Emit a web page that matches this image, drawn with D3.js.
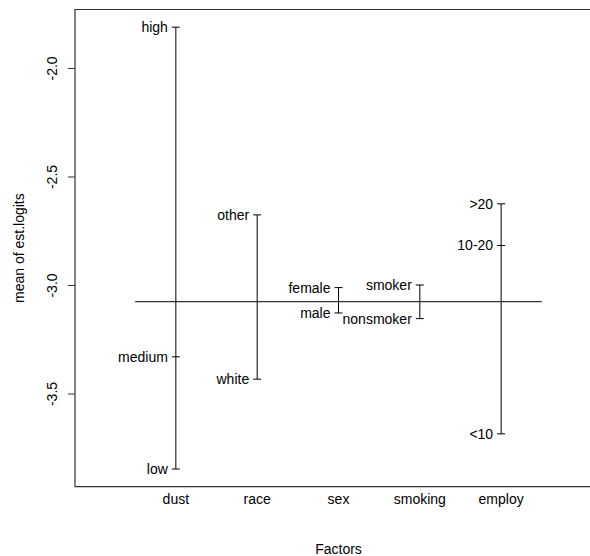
<!DOCTYPE html>
<html>
<head>
<meta charset="utf-8">
<script src="https://cdn.jsdelivr.net/npm/d3@7"></script>
<style>
  body { margin: 0; background: #fff; overflow: hidden; }
  svg { display: block; }
  text { font-family: "Liberation Sans", Arial, Helvetica, sans-serif; font-size: 14px; fill: #000; }
</style>
</head>
<body>
<div class="myChart"></div>
<script>
// factor names and mean of est.logits for each level
var factors = ["dust", "race", "sex", "smoking", "employ"];
var dustLevels = [{name: "high", value: -1.812}, {name: "medium", value: -3.331}, {name: "low", value: -3.848}];
var raceLevels = [{name: "other", value: -2.677}, {name: "white", value: -3.434}];
var sexLevels = [{name: "female", value: -3.012}, {name: "male", value: -3.129}];
var smokingLevels = [{name: "smoker", value: -3.000}, {name: "nonsmoker", value: -3.155}];
var employLevels = [{name: ">20", value: -2.626}, {name: "10-20", value: -2.818}, {name: "<10", value: -3.686}];
var grandMean = -3.077;
var yTicks = [-2.0, -2.5, -3.0, -3.5];

var levels = [dustLevels, raceLevels, sexLevels, smokingLevels, employLevels];

var width = 590, height = 556;
var margin = {top: 9.5, right: -12, bottom: 69.3, left: 75};

var svg = d3.select(".myChart").append("svg").attr("width", width).attr("height", height);

var all = d3.merge(levels).map(function (d) { return d.value; });
var lo = d3.min(all), hi = d3.max(all), pad = (hi - lo) * 0.04;

// R style: xlim 0..nf+1 with 4% extension
var nf = factors.length;
var x = d3.scaleLinear()
    .domain([0 - (nf + 1) * 0.04, nf + 1 + (nf + 1) * 0.04])
    .range([margin.left, width - margin.right]);
var y = d3.scaleLinear()
    .domain([lo - pad, hi + pad])
    .range([height - margin.bottom, margin.top]);

// plot box, its right side lies past the window edge
var x0 = x.range()[0], x1 = x.range()[1], yb = y.range()[0], yt = y.range()[1];
svg.append("path")
    .attr("d", "M" + x1 + "," + yt + "H" + x0 + "V" + yb + "H" + x1)
    .attr("fill", "none").attr("stroke", "#333").attr("stroke-width", 1.2);

// y axis
var yAxis = svg.append("g")
    .attr("transform", "translate(" + x0 + ",0)")
    .call(d3.axisLeft(y).tickValues(yTicks).tickSize(7).tickSizeOuter(0).tickFormat(d3.format(".1f")));
yAxis.select(".domain").remove();
yAxis.selectAll("line").attr("stroke", "#333");
yAxis.selectAll("text")
    .attr("font-size", "14px")
    .attr("font-family", null)
    .attr("text-anchor", "middle")
    .attr("dy", null)
    .attr("x", 0).attr("y", 0)
    .attr("transform", "translate(-18,0) rotate(-90)")
    .text(function (d) { return d.toFixed(1); });

// grand mean line
svg.append("line")
    .attr("x1", x(0.5)).attr("x2", x(nf + 0.5))
    .attr("y1", y(grandMean)).attr("y2", y(grandMean))
    .attr("stroke", "#000");

// one vertical segment per factor with level ticks and labels
factors.forEach(function (f, i) {
    var xi = x(i + 1);
    var vals = levels[i].map(function (d) { return d.value; });
    var g = svg.append("g");
    g.append("line")
        .attr("x1", xi).attr("x2", xi)
        .attr("y1", y(d3.max(vals))).attr("y2", y(d3.min(vals)))
        .attr("stroke", "#000");
    g.selectAll(".lvl").data(levels[i]).enter().append("line")
        .attr("x1", xi - 4).attr("x2", xi + 4)
        .attr("y1", function (d) { return y(d.value); })
        .attr("y2", function (d) { return y(d.value); })
        .attr("stroke", "#000");
    g.selectAll(".lab").data(levels[i]).enter().append("text")
        .attr("x", xi - 8)
        .attr("y", function (d) { return y(d.value) + 5; })
        .attr("text-anchor", "end")
        .text(function (d) { return d.name; });
    svg.append("text")
        .attr("x", xi).attr("y", height - margin.bottom + 17)
        .attr("text-anchor", "middle")
        .text(f);
});

// axis titles
svg.append("text")
    .attr("x", x(3)).attr("y", 554)
    .attr("text-anchor", "middle")
    .text("Factors");
svg.append("text")
    .attr("transform", "translate(24," + ((yb + yt) / 2) + ") rotate(-90)")
    .attr("text-anchor", "middle")
    .text("mean of est.logits");
</script>
</body>
</html>
